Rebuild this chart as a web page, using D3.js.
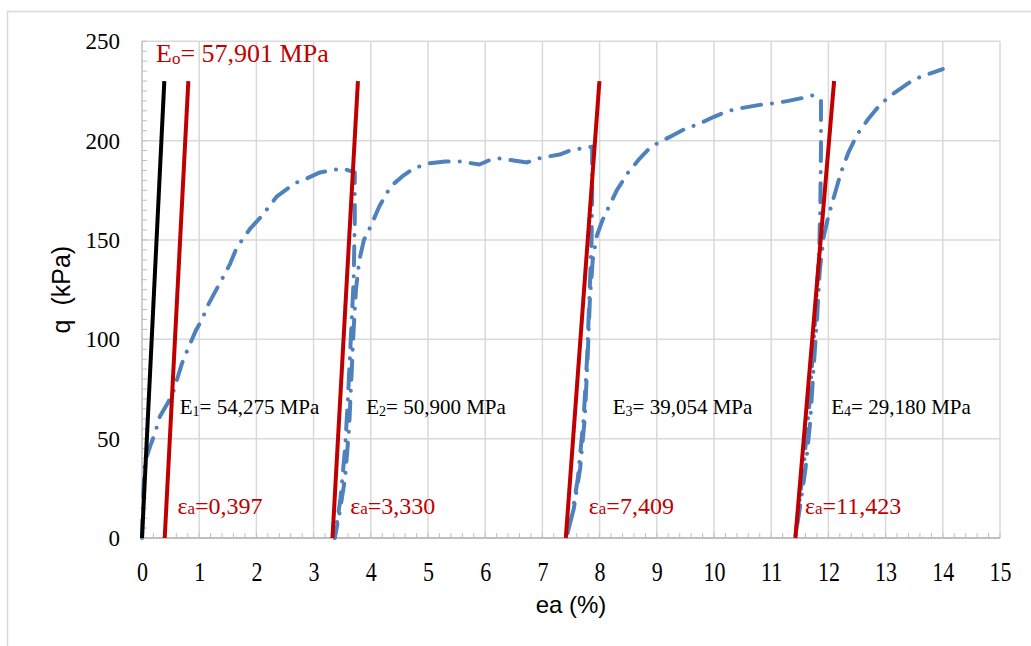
<!DOCTYPE html>
<html><head><meta charset="utf-8">
<script src="https://cdn.jsdelivr.net/npm/d3@7"></script>
<style>body{margin:0;background:#fff}</style>
</head><body><svg id="c" width="1031" height="646"></svg>
<script>
// ---------- data ----------
const xTickValues = d3.range(0, 16);
const yTickValues = [0, 50, 100, 150, 200, 250];

// blue test curve (ea %, q kPa), in path order
const loading1 = [[0,0],[0.02,20],[0.05,38],[0.14,46],[0.23,53],[0.31,61],[0.45,68],[0.54,73],[0.7,88],[0.8,95],[0.95,105],[1.05,110],[1.15,117],[1.28,124],[1.45,133],[1.54,138],[1.64,145],[1.77,151],[1.9,156],[2.06,161],[2.2,166],[2.36,172],[2.55,176],[2.71,179],[2.88,181],[3.11,184],[3.3,185],[3.51,186],[3.72,184]];
const unload1 = [[3.72,184],[3.72,160],[3.7,130],[3.65,100],[3.6,70],[3.55,45],[3.47,20],[3.37,0]];
const reload1 = [[3.37,0],[3.45,12],[3.55,30],[3.62,55],[3.66,80],[3.7,105],[3.74,125],[3.8,140],[3.88,150],[4.0,157],[4.15,167],[4.35,177],[4.55,182],[4.75,186],[5.0,188.5],[5.3,189.5],[5.56,189.5],[5.9,188],[6.1,190.5],[6.26,191],[6.5,190],[6.73,189],[6.92,191],[7.1,192],[7.3,193],[7.48,195],[7.67,196],[7.87,197]];
const unload2 = [[7.87,197],[7.87,175],[7.86,150],[7.82,120],[7.78,90],[7.72,60],[7.62,30],[7.52,12],[7.42,0]];
const reload2 = [[7.42,0],[7.55,15],[7.66,35],[7.74,60],[7.79,90],[7.83,120],[7.88,140],[7.95,152],[8.05,160],[8.15,166],[8.3,175],[8.5,184],[8.7,191],[8.9,197],[9.1,200],[9.3,203],[9.5,206],[9.7,208],[10.0,212],[10.25,215],[10.5,216.5],[10.8,218],[11.1,219],[11.3,220],[11.55,221.5],[11.75,223],[11.87,220]];
const unload3 = [[11.87,220],[11.87,195],[11.86,170],[11.84,145],[11.78,115],[11.72,90],[11.66,65],[11.58,40],[11.5,20],[11.42,0]];
const reload3 = [[11.42,0],[11.5,15],[11.6,35],[11.68,58],[11.74,85],[11.8,110],[11.85,135],[11.92,152],[12.0,162],[12.1,172],[12.22,184],[12.35,194],[12.5,203],[12.7,211],[12.9,218],[13.1,223],[13.4,229],[13.6,232],[13.8,234],[14.0,236]];

// tangent (modulus) lines: [ea_start, q_start, ea_end, q_end]
const lineE0 = [0, 0, 0.39, 230];
const modulusLines = [[0.397,0,0.81,230],[3.33,0,3.775,230],[7.409,0,7.997,230],[11.423,0,12.10,230]];

const e0Label = {main:"E", sub:"o", rest:"= 57,901 MPa"};
const eLabels = [
  {sub:"1", rest:"= 54,275 MPa", ea:0.66},
  {sub:"2", rest:"= 50,900 MPa", ea:3.92},
  {sub:"3", rest:"= 39,054 MPa", ea:8.23},
  {sub:"4", rest:"= 29,180 MPa", ea:12.05}
];
const epsLabels = [
  {val:"=0,397", ea:0.62},
  {val:"=3,330", ea:3.64},
  {val:"=7,409", ea:7.81},
  {val:"=11,423", ea:11.59}
];

// ---------- chart ----------
const svg = d3.select("#c");
const x = d3.scaleLinear([0, 15], [142, 1000]);
const y = d3.scaleLinear([0, 250], [538, 41.3]);
const grid = "#D9D9D9", red = "#C00000", blue = "#4F81BD";
const serif = "'Liberation Serif','Times New Roman',serif";
const sans = "'Liberation Sans',Arial,sans-serif";

svg.append("rect").attr("x",7.5).attr("y",11.5).attr("width",1100).attr("height",700)
  .attr("fill","none").attr("stroke",grid).attr("stroke-width",1.5);

// gridlines
svg.append("g").selectAll("line").data(xTickValues.filter(d=>d>0)).join("line")
  .attr("x1",d=>x(d)).attr("x2",d=>x(d)).attr("y1",y(0)).attr("y2",y(250))
  .attr("stroke",grid).attr("stroke-width",1.5);
svg.append("g").selectAll("line").data(yTickValues.filter(d=>d>0)).join("line")
  .attr("x1",x(0)).attr("x2",x(15)).attr("y1",d=>y(d)).attr("y2",d=>y(d))
  .attr("stroke",grid).attr("stroke-width",1.5);

// minor ticks
const yMinor = d3.range(0, 251, 5);
svg.append("g").selectAll("line").data(yMinor).join("line")
  .attr("x1",x(0)).attr("x2",x(0)+5).attr("y1",d=>y(d)).attr("y2",d=>y(d))
  .attr("stroke","#BFBFBF").attr("stroke-width",1);
const xMinor = d3.range(0, 75.1, 1).map(d=>d/5);
svg.append("g").selectAll("line").data(xMinor).join("line")
  .attr("x1",d=>x(d)).attr("x2",d=>x(d)).attr("y1",y(0)).attr("y2",y(0)-5)
  .attr("stroke","#BFBFBF").attr("stroke-width",1);

// axis lines
svg.append("line").attr("x1",x(0)).attr("x2",x(0)).attr("y1",y(0)).attr("y2",y(250)).attr("stroke","#BFBFBF").attr("stroke-width",1.5);
svg.append("line").attr("x1",x(0)).attr("x2",x(15)).attr("y1",y(0)).attr("y2",y(0)).attr("stroke","#BFBFBF").attr("stroke-width",2);

// axes labels via d3 axes
const xa = svg.append("g").attr("transform",`translate(0,${y(0)})`)
  .call(d3.axisBottom(x).tickValues(xTickValues).tickSize(0).tickPadding(0).tickFormat(d3.format("d")));
xa.select(".domain").remove();
xa.selectAll("text").attr("font-family",serif).attr("font-size",22).attr("fill","#000")
  .attr("y",0).attr("transform","translate(0,23) scale(1,1.27)");
const ya = svg.append("g").attr("transform",`translate(${x(0)},0)`)
  .call(d3.axisLeft(y).tickValues(yTickValues).tickSize(0).tickPadding(22).tickFormat(d3.format("d")));
ya.select(".domain").remove();
ya.selectAll("text").attr("font-family",serif).attr("font-size",23).attr("fill","#000");

svg.append("text").attr("transform",`translate(70,${(y(0)+y(250))/2}) rotate(-90)`)
  .attr("text-anchor","middle").attr("font-family",sans).attr("font-size",25)
  .style("white-space","pre").text("q  (kPa)");
svg.append("text").attr("x",(x(0)+x(15))/2).attr("y",613)
  .attr("text-anchor","middle").attr("font-family",sans).attr("font-size",24).text("ea (%)");

// blue curve
const allPts = [loading1, unload1.slice(1), reload1.slice(1), unload2.slice(1), reload2.slice(1), unload3.slice(1), reload3.slice(1)].flat();
const line = d3.line().x(d=>x(d[0])).y(d=>y(d[1]));
svg.append("path").datum(allPts).attr("d",line).attr("fill","none")
  .attr("stroke",blue).attr("stroke-width",4).attr("stroke-linecap","round").attr("stroke-linejoin","round")
  .attr("stroke-dasharray","19,11,0.1,11");

// modulus lines
svg.append("line").attr("x1",x(lineE0[0])).attr("y1",y(lineE0[1])).attr("x2",x(lineE0[2])).attr("y2",y(lineE0[3]))
  .attr("stroke","#000").attr("stroke-width",4);
svg.append("g").selectAll("line").data(modulusLines).join("line")
  .attr("x1",d=>x(d[0])).attr("y1",d=>y(d[1])).attr("x2",d=>x(d[2])).attr("y2",d=>y(d[3]))
  .attr("stroke",red).attr("stroke-width",4);

// labels
const t0 = svg.append("text").attr("x",156).attr("y",62).attr("font-family",serif).attr("font-size",26).attr("fill",red);
t0.append("tspan").text(e0Label.main);
t0.append("tspan").attr("font-size",17).attr("dy",2).text(e0Label.sub);
t0.append("tspan").attr("dy",-2).text(e0Label.rest);

eLabels.forEach(l=>{
  const t = svg.append("text").attr("x",x(l.ea)).attr("y",414).attr("font-family",serif).attr("font-size",21).attr("fill","#000");
  t.append("tspan").text("E");
  t.append("tspan").attr("font-size",14).attr("dy",2).text(l.sub);
  t.append("tspan").attr("dy",-2).text(l.rest);
});
epsLabels.forEach(l=>{
  const t = svg.append("text").attr("x",x(l.ea)).attr("y",514).attr("font-family",serif).attr("font-size",24).attr("fill",red);
  t.append("tspan").text("ε");
  t.append("tspan").attr("font-size",17).text("a");
  t.append("tspan").text(l.val);
});
</script></body></html>
